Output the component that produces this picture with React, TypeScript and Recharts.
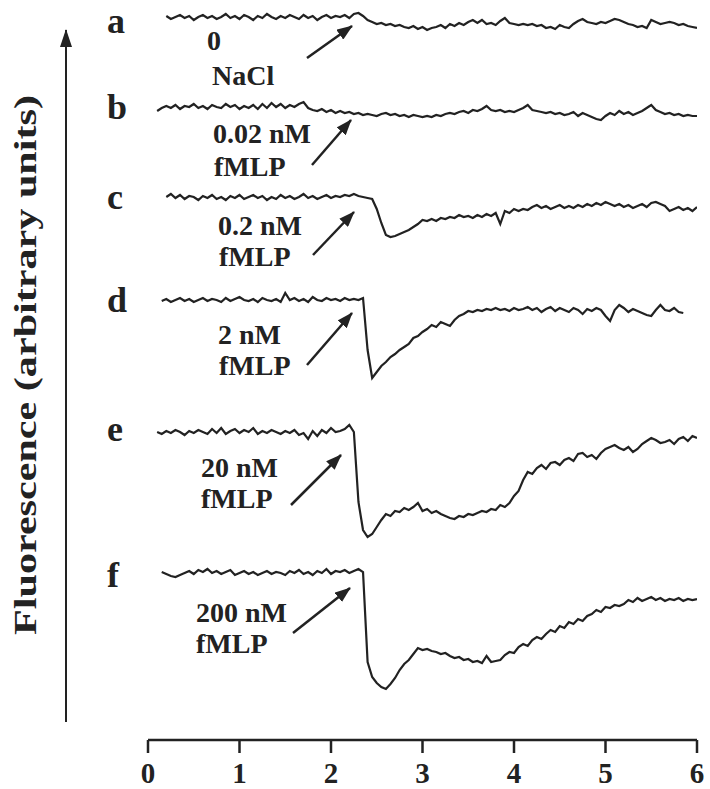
import { Line, LineChart, XAxis, YAxis } from 'recharts';

// time after start of recording (min), sampled every 0.05
const timeS = [
  0.1, 0.15, 0.2, 0.25, 0.3, 0.35, 0.4, 0.45, 0.5, 0.55,
  0.6, 0.65, 0.7, 0.75, 0.8, 0.85, 0.9, 0.95, 1.0, 1.05,
  1.1, 1.15, 1.2, 1.25, 1.3, 1.35, 1.4, 1.45, 1.5, 1.55,
  1.6, 1.65, 1.7, 1.75, 1.8, 1.85, 1.9, 1.95, 2.0, 2.05,
  2.1, 2.15, 2.2, 2.25, 2.3, 2.35, 2.4, 2.45, 2.5, 2.55,
  2.6, 2.65, 2.7, 2.75, 2.8, 2.85, 2.9, 2.95, 3.0, 3.05,
  3.1, 3.15, 3.2, 3.25, 3.3, 3.35, 3.4, 3.45, 3.5, 3.55,
  3.6, 3.65, 3.7, 3.75, 3.8, 3.85, 3.9, 3.95, 4.0, 4.05,
  4.1, 4.15, 4.2, 4.25, 4.3, 4.35, 4.4, 4.45, 4.5, 4.55,
  4.6, 4.65, 4.7, 4.75, 4.8, 4.85, 4.9, 4.95, 5.0, 5.05,
  5.1, 5.15, 5.2, 5.25, 5.3, 5.35, 5.4, 5.45, 5.5, 5.55,
  5.6, 5.65, 5.7, 5.75, 5.8, 5.85, 5.9, 5.95, 6.0,
];

// fluorescence, arbitrary units (resting level ~100)
const traceA = [
  null, null, 101, 98, 100, 102, 99, 101, 97, 100,
  102, 99, 101, 98, 100, 103, 99, 101, 98, 102,
  100, 97, 101, 99, 103, 100, 98, 101, 99, 102,
  100, 98, 102, 99, 101, 97, 100, 102, 99, 101,
  100, 102, 99, 103, 104, 101, 97, 95, 93, 94,
  92, 93, 91, 92, 90, 89, 91, 88, 90, 87,
  89, 90, 92, 89, 93, 91, 94, 92, 95, 97,
  94, 97, 93, 94, 92, 96, 99, 94, 93, 92,
  93, 92, 93, 91, 92, 89, 90, 88, 92, 90,
  89, 93, 96, 98, 95, 94, 93, 95, 94, 96,
  98, 97, 95, 93, 92, 90, 91, 89, 97, 95,
  93, 94, 95, 94, 92, 93, 91, 90, 89,
];

const traceB = [
  96, 99, 101, 99, 102, 98, 101, 100, 103, 99,
  101, 98, 102, 100, 99, 103, 100, 102, 98, 101,
  99, 102, 98, 103, 99, 104, 100, 103, 99, 102,
  100, 103, 105, 99, 97, 96, 98, 95, 97, 94,
  96, 94, 95, 93, 94, 92, 93, 92, 91, 93,
  94, 92, 93, 91, 92, 90, 92, 91, 90, 91,
  90, 92, 91, 93, 94, 93, 95, 96, 94, 97,
  96, 98, 101, 97, 96, 97, 95, 96, 95, 97,
  99, 102, 97, 96, 95, 94, 95, 93, 94, 92,
  93, 95, 91, 94, 92, 90, 88, 87, 91, 94,
  92, 96, 93, 95, 92, 94, 96, 99, 102, 97,
  95, 93, 94, 92, 93, 91, 92, 91, 91,
];

const traceC = [
  null, null, 100, 103, 99, 102, 98, 101, 100, 97,
  101, 99, 102, 98, 100, 97, 101, 99, 102, 98,
  100, 102, 99, 101, 97, 100, 98, 102, 99, 101,
  98, 100, 103, 99, 101, 98, 100, 102, 99, 101,
  100, 102, 101, 103, 101, 100, 99, 98, 88, 74,
  62, 60, 61, 63, 65, 67, 70, 73, 77, 76,
  78, 76, 79, 78, 80, 79, 82, 80, 81, 79,
  82, 80, 83, 81, 84, 73, 86, 84, 88, 86,
  88, 87, 90, 92, 89, 91, 88, 90, 92, 89,
  91, 89, 92, 90, 93, 91, 94, 92, 95, 93,
  91, 93, 90, 92, 89, 91, 93, 90, 94, 95,
  93, 91, 86, 88, 90, 87, 89, 86, 90,
];

const traceD = [
  null, 99, 101, 98, 100, 102, 99, 101, 98, 100,
  102, 99, 101, 100, 98, 102, 99, 101, 103, 100,
  99, 101, 98, 102, 100, 99, 101, 98, 107, 100,
  102, 99, 101, 98, 103, 100, 99, 102, 100, 101,
  99, 102, 100, 101, 100, 102, 50, 22, 28, 34,
  38, 43, 46, 50, 53, 56, 62, 64, 68, 71,
  75, 73, 78, 76, 74, 80, 84, 86, 89, 88,
  90, 89, 91, 90, 92, 90, 91, 89, 92, 90,
  91, 93, 90, 92, 88, 91, 93, 89, 92, 90,
  88, 92, 90, 86, 91, 89, 92, 90, 84, 79,
  90, 95, 92, 88, 91, 89, 87, 85, 84, 90,
  95, 90, 89, 92, 88, 87, null, null, null,
];

const traceE = [
  100, 98, 101, 99, 102, 100, 97, 101, 99, 102,
  100, 98, 103, 99, 104, 98, 101, 103, 99, 102,
  100, 104, 98, 101, 99, 102, 100, 98, 101, 99,
  102, 97, 99, 93, 101, 96, 102, 99, 104, 100,
  101, 103, 107, 100, 30, 2, -5, -2, 5, 12,
  18, 16, 21, 20, 24, 22, 25, 29, 21, 23,
  19, 21, 18, 16, 14, 13, 16, 15, 18, 17,
  19, 21, 20, 23, 22, 27, 25, 29, 36, 41,
  52, 60, 58, 64, 67, 63, 69, 70, 67, 72,
  74, 71, 78, 79, 75, 77, 73, 79, 83, 85,
  87, 84, 82, 85, 80, 83, 88, 91, 94, 92,
  89, 90, 92, 88, 93, 95, 91, 96, 94,
];

const traceF = [
  null, 100, 98, 96, 95, 97, 99, 101, 98, 102,
  100, 103, 99, 101, 98, 100, 102, 97, 99, 101,
  98, 100, 97, 99, 101, 98, 100, 99, 97, 101,
  99, 102, 98, 100, 97, 101, 99, 103, 98, 101,
  100, 102, 99, 101, 103, 100, 10, -5, -11, -15,
  -17, -12, -6, 2, 8, 12, 18, 24, 22, 23,
  21, 20, 18, 19, 16, 14, 15, 12, 13, 10,
  11, 9, 16, 10, 11, 12, 17, 20, 19, 25,
  28, 26, 32, 35, 33, 38, 42, 40, 46, 44,
  50, 48, 53, 51, 56, 58, 62, 60, 65, 64,
  67, 66, 68, 72, 70, 74, 71, 73, 75, 72,
  74, 71, 73, 72, 74, 71, 73, 72, 73,
];

const traceKeys = ['a', 'b', 'c', 'd', 'e', 'f'];
const doseLines = [
  ['0', 'NaCl'],
  ['0.02 nM', 'fMLP'],
  ['0.2 nM', 'fMLP'],
  ['2 nM', 'fMLP'],
  ['20 nM', 'fMLP'],
  ['200 nM', 'fMLP'],
];
const xTicks = [0, 1, 2, 3, 4, 5, 6];

const data = timeS.map((t, i) => ({
  t,
  a: traceA[i],
  b: traceB[i],
  c: traceC[i],
  d: traceD[i],
  e: traceE[i],
  f: traceF[i],
}));

// layout: pixel row of each trace's resting level, stacked like the original figure
const W = 710;
const H = 789;
const PLOT_H = 740;
const restRow = [17, 107, 197, 300, 432, 572];
const ink = '#222';
const serif = '"Liberation Serif", "Times New Roman", serif';

// letter / dose label / arrow placement
const letterBase = [33, 119, 209, 312, 441, 587];
const doseText = [
  { x: 207, y1: 50, x2: 212, y2: 85 },
  { x: 213, y1: 143, x2: 214, y2: 176 },
  { x: 218, y1: 235, x2: 219, y2: 266 },
  { x: 218, y1: 344, x2: 219, y2: 375 },
  { x: 201, y1: 477, x2: 201, y2: 508 },
  { x: 196, y1: 622, x2: 196, y2: 653 },
];
const arrows = [
  [307, 58, 352, 26],
  [312, 165, 351, 120],
  [313, 255, 354, 212],
  [307, 365, 352, 313],
  [291, 505, 341, 455],
  [293, 633, 350, 588],
];

function Overlay() {
  return (
    <svg
      width={W}
      height={H}
      style={{ position: 'absolute', left: 0, top: 0, pointerEvents: 'none' }}
    >
      <defs>
        <marker id="head" markerUnits="userSpaceOnUse" markerWidth={16} markerHeight={12} refX={15} refY={6} orient="auto">
          <path d="M0,0 L16,6 L0,12 z" fill={ink} />
        </marker>
        <marker id="axisHead" markerUnits="userSpaceOnUse" markerWidth={12} markerHeight={18} refX={6} refY={1} orient="0">
          <path d="M6,0 L12,18 L0,18 z" fill={ink} />
        </marker>
      </defs>
      <line x1={66} y1={722} x2={66} y2={30} stroke={ink} strokeWidth={2} markerEnd="url(#axisHead)" />
      <text
        transform="translate(36, 365) rotate(-90)"
        textAnchor="middle"
        fontFamily={serif}
        fontWeight="bold"
        fontSize={31}
        fill={ink}
        textLength={540}
        lengthAdjust="spacingAndGlyphs"
      >
        Fluorescence (arbitrary units)
      </text>
      {traceKeys.map((k, i) => (
        <g key={k} fontFamily={serif} fontWeight="bold" fill={ink}>
          <text x={107} y={letterBase[i]} fontSize={36}>{k}</text>
          <text x={doseText[i].x} y={doseText[i].y1} fontSize={28}>{doseLines[i][0]}</text>
          <text x={doseText[i].x2} y={doseText[i].y2} fontSize={28}>{doseLines[i][1]}</text>
          <line
            x1={arrows[i][0]}
            y1={arrows[i][1]}
            x2={arrows[i][2]}
            y2={arrows[i][3]}
            stroke={ink}
            strokeWidth={2.5}
            markerEnd="url(#head)"
          />
        </g>
      ))}
    </svg>
  );
}

export default function App() {
  return (
    <div style={{ position: 'absolute', left: 0, top: 0, width: W, height: H, background: '#fff' }}>
      <LineChart width={W} height={H} data={data} margin={{ top: 0, right: 13, bottom: 0, left: 148 }}>
        <XAxis
          dataKey="t"
          type="number"
          domain={[0, 6]}
          ticks={xTicks}
          allowDataOverflow
          height={H - PLOT_H}
          tickSize={13}
          tickMargin={9}
          axisLine={{ stroke: ink, strokeWidth: 2.5 }}
          tickLine={{ stroke: ink, strokeWidth: 2.5 }}
          tick={{ fontSize: 29, fontWeight: 'bold', fill: ink, fontFamily: serif }}
        />
        {traceKeys.map((k, i) => (
          <YAxis
            key={k}
            yAxisId={k}
            hide
            type="number"
            allowDataOverflow
            domain={[restRow[i] + 100 - PLOT_H, restRow[i] + 100]}
          />
        ))}
        {traceKeys.map((k) => (
          <Line
            key={k}
            yAxisId={k}
            dataKey={k}
            type="linear"
            stroke={ink}
            strokeWidth={2.2}
            dot={false}
            isAnimationActive={false}
          />
        ))}
      </LineChart>
      <Overlay />
    </div>
  );
}
